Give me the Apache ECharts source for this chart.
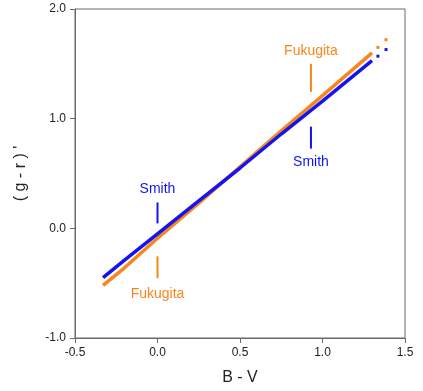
<!DOCTYPE html>
<html>
<head>
<meta charset="utf-8">
<script src="https://cdn.jsdelivr.net/npm/echarts@6/dist/echarts.min.js"></script>
<style>
  html, body { margin: 0; padding: 0; background: #fff; }
  #chart { width: 423px; height: 391px; }
</style>
</head>
<body>
<div id="chart"></div>
<script>
// B - V vs (g - r)' transformations
const smithLine = [[-0.33, -0.45], [-0.2, -0.29], [0, -0.05], [0.25, 0.25], [0.5, 0.55], [0.75, 0.86], [1.0, 1.16], [1.3, 1.53]]
const fukugitaLine = [[-0.33, -0.52], [-0.2, -0.36], [0, -0.09], [0.25, 0.23], [0.5, 0.56], [0.75, 0.89], [1.0, 1.21], [1.3, 1.60]]
const smithDots = [[1.336, 1.57], [1.385, 1.63]]
const fukugitaDots = [[1.336, 1.65], [1.385, 1.72]]

// annotation ticks and labels
const smithTicks = [[[0, 0.236], [0, 0.045]], [[0.93, 0.927], [0.93, 0.727]]]
const fukugitaTicks = [[[0, -0.255], [0, -0.455]], [[0.93, 1.5], [0.93, 1.245]]]
const smithLabels = [[0, 0.36], [0.93, 0.6]]
const fukugitaLabels = [[0, -0.6], [0.93, 1.62]]

const BLUE = '#1414f0'
const ORANGE = '#f8861a'
const FONT = 'Liberation Sans, Arial, sans-serif'

const chart = echarts.init(document.getElementById('chart'))

const tickSeries = (segs, color) => segs.map(seg => ({
  type: 'line',
  data: seg,
  symbol: 'none',
  silent: true,
  lineStyle: { color, width: 2 },
  z: 3
}))

const labelSeries = (pts, text, color) => ({
  type: 'scatter',
  data: pts,
  symbolSize: 0,
  silent: true,
  itemStyle: { opacity: 1 },
  label: {
    show: true,
    position: 'inside',
    formatter: text,
    color,
    fontFamily: FONT,
    fontSize: 14
  }
})

const axisCommon = {
  axisLine: { onZero: false, lineStyle: { color: '#6a6a6a' } },
  axisTick: { show: true, length: 5, lineStyle: { color: '#6a6a6a' } },
  axisLabel: {
    fontFamily: FONT, fontSize: 12, color: '#222', margin: 9,
    formatter: v => v.toFixed(1)
  },
  splitLine: { show: false }
}

const option = {
  animation: false,
  grid: {
    left: 75, right: 18, top: 9, bottom: 52,
    show: true,
    borderColor: '#6a6a6a',
    borderWidth: 1
  },
  xAxis: {
    type: 'value',
    min: -0.5, max: 1.5, interval: 0.5,
    name: 'B - V',
    nameLocation: 'middle',
    nameGap: 32,
    nameTextStyle: { fontFamily: FONT, fontSize: 16, color: '#222' },
    ...axisCommon
  },
  yAxis: {
    type: 'value',
    min: -1, max: 2, interval: 1,
    name: "( g - r ) '",
    nameLocation: 'middle',
    nameGap: 46,
    nameTextStyle: { fontFamily: FONT, fontSize: 16, color: '#222' },
    ...axisCommon
  },
  series: [
    {
      name: 'Fukugita',
      type: 'line',
      data: fukugitaLine,
      symbol: 'none',
      lineStyle: { color: ORANGE, width: 3.5 },
      z: 2
    },
    {
      name: 'Smith',
      type: 'line',
      data: smithLine,
      symbol: 'none',
      lineStyle: { color: BLUE, width: 3.5 },
      z: 3
    },
    {
      type: 'scatter',
      data: fukugitaDots,
      symbol: 'rect',
      symbolSize: 3,
      itemStyle: { color: ORANGE, opacity: 1 }
    },
    {
      type: 'scatter',
      data: smithDots,
      symbol: 'rect',
      symbolSize: 3,
      itemStyle: { color: BLUE, opacity: 1 }
    },
    ...tickSeries(smithTicks, BLUE),
    ...tickSeries(fukugitaTicks, ORANGE),
    labelSeries(smithLabels, 'Smith', BLUE),
    labelSeries(fukugitaLabels, 'Fukugita', ORANGE)
  ]
}

chart.setOption(option)
</script>
</body>
</html>
